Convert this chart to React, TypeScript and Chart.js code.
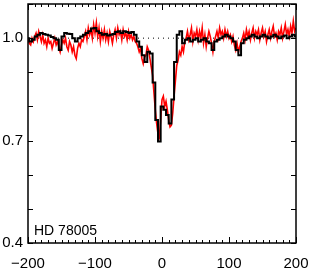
import React, { useEffect, useRef } from 'react';
import { Chart, registerables } from 'chart.js';
Chart.register(...registerables);

// Velocity grid (km/s) of the black (coarse) spectrum
const blackVel = [
  -200, -196, -192, -188, -184, -180, -176, -172, -168, -164, -160, -156, -152, -148, -144, -140, -136, -132, -128, -124,
  -120, -116, -112, -108, -104, -100, -96, -92, -88, -84, -80, -76, -72, -68, -64, -60, -56, -52, -48, -44,
  -40, -36, -32, -28, -24, -20, -16, -12, -8, -4, 0, 4, 8, 12, 16, 20, 24, 28, 32, 36,
  40, 44, 48, 52, 56, 60, 64, 68, 72, 76, 80, 84, 88, 92, 96, 100, 104, 108, 112, 116,
  120, 124, 128, 132, 136, 140, 144, 148, 152, 156, 160, 164, 168, 172, 176, 180, 184, 188, 192, 196, 200,
];
const blackFlux = [
  1.0, 0.99, 0.995, 1.005, 1.01, 1.015, 1.012, 1.01, 1.008, 1.003, 1.0, 0.995, 0.965, 1.005, 1.015, 1.013, 1.012, 1.0, 0.99, 1.0,
  1.005, 1.01, 1.015, 1.02, 1.028, 1.03, 1.02, 1.015, 1.01, 1.012, 1.008, 1.01, 1.012, 1.018, 1.02, 1.015, 1.02, 1.018, 1.015, 1.018,
  1.01, 0.99, 0.975, 0.95, 0.93, 0.96, 0.955, 0.87, 0.76, 0.697, 0.8, 0.79, 0.775, 0.75, 0.82, 0.93, 1.01, 1.02, 0.985, 0.995,
  1.0, 0.99, 0.995, 1.0, 0.99, 0.995, 1.0, 0.99, 0.985, 0.965, 0.99, 0.995, 1.0, 1.005, 1.01, 1.005, 1.0, 0.99, 0.965, 0.95,
  0.985, 0.995, 1.0, 1.005, 1.01, 1.005, 1.0, 1.005, 1.01, 1.005, 1.0, 1.005, 1.01, 1.005, 1.0, 1.005, 1.008, 1.0, 1.005, 1.01, 1.005,
];

// Velocity grid (km/s) of the red (fine) spectrum
const redVel = [
  -200, -198, -196, -194, -192, -190, -188, -186, -184, -182, -180, -178, -176, -174, -172, -170, -168, -166, -164, -162,
  -160, -158, -156, -154, -152, -150, -148, -146, -144, -142, -140, -138, -136, -134, -132, -130, -128, -126, -124, -122,
  -120, -118, -116, -114, -112, -110, -108, -106, -104, -102, -100, -98, -96, -94, -92, -90, -88, -86, -84, -82,
  -80, -78, -76, -74, -72, -70, -68, -66, -64, -62, -60, -58, -56, -54, -52, -50, -48, -46, -44, -42,
  -40, -38, -36, -34, -32, -30, -28, -26, -24, -22, -20, -18, -16, -14, -12, -10, -8, -6, -4, -2,
  0, 2, 4, 6, 8, 10, 12, 14, 16, 18, 20, 22, 24, 26, 28, 30, 32, 34, 36, 38,
  40, 42, 44, 46, 48, 50, 52, 54, 56, 58, 60, 62, 64, 66, 68, 70, 72, 74, 76, 78,
  80, 82, 84, 86, 88, 90, 92, 94, 96, 98, 100, 102, 104, 106, 108, 110, 112, 114, 116, 118,
  120, 122, 124, 126, 128, 130, 132, 134, 136, 138, 140, 142, 144, 146, 148, 150, 152, 154, 156, 158,
  160, 162, 164, 166, 168, 170, 172, 174, 176, 178, 180, 182, 184, 186, 188, 190, 192, 194, 196, 198, 200,
];
const redFlux = [
  1.0, 0.985, 0.98, 1.0, 0.99, 1.005, 1.015, 0.995, 1.02, 1.005, 0.99, 1.01, 0.985, 0.995, 0.975, 1.0, 0.985, 0.99, 0.97, 0.985,
  1.0, 0.98, 0.99, 0.975, 0.96, 0.98, 0.995, 0.985, 1.0, 0.975, 0.965, 0.99, 0.98, 0.96, 0.975, 0.95, 0.94, 0.97, 0.985, 0.975,
  0.995, 0.99, 1.005, 1.02, 0.995, 1.03, 1.01, 1.025, 1.0, 1.04, 1.015, 1.045, 1.005, 1.03, 0.99, 1.02, 1.0, 1.025, 0.995, 1.015,
  0.99, 1.02, 1.005, 0.985, 1.01, 1.025, 1.0, 1.03, 1.01, 1.02, 0.995, 1.025, 1.005, 1.015, 0.995, 1.02, 1.0, 1.01, 0.995, 1.005,
  0.99, 0.985, 0.975, 0.96, 0.97, 0.94, 0.925, 0.945, 0.95, 0.975, 0.965, 0.94, 0.915, 0.89, 0.84, 0.79, 0.75, 0.72, 0.71, 0.76,
  0.82, 0.83, 0.8, 0.815, 0.79, 0.76, 0.74, 0.745, 0.78, 0.83, 0.875, 0.92, 0.935, 0.96, 0.95, 0.975, 0.96, 0.99, 1.0, 1.02,
  0.995, 1.01, 1.03, 0.99, 1.015, 1.005, 1.025, 0.995, 1.02, 1.0, 1.03, 0.985, 1.01, 0.975, 1.0, 1.02, 1.005, 0.985, 0.96, 0.99,
  1.005, 1.02, 1.0, 1.03, 1.01, 1.02, 1.0, 1.025, 1.005, 1.02, 1.0, 1.01, 0.99, 1.005, 0.98, 0.965, 0.985, 0.96, 0.975, 0.99,
  1.0, 1.015, 0.995, 1.025, 1.005, 1.02, 0.995, 1.015, 1.03, 1.0, 1.02, 1.01, 1.025, 0.995, 1.015, 1.03, 1.005, 1.02, 0.99, 1.01,
  1.025, 1.0, 1.02, 1.035, 1.005, 1.015, 0.995, 1.02, 1.01, 1.03, 1.0, 1.02, 1.04, 1.01, 1.025, 1.005, 1.035, 1.015, 1.05, 1.02, 1.03,
];

const continuumLevel = 1.0;
const xTickLabels = [-200, -100, 0, 100, 200];
const yTickLabels = [0.4, 0.7, 1.0];
const starLabel = 'HD 78005';

const FONT = "'Liberation Sans', Arial, sans-serif";

const framePlugin = {
  id: 'frame',
  afterDatasetsDraw(chart: any) {
    const { ctx, chartArea: a, scales } = chart;
    const xs = scales.x;
    const ys = scales.y;
    ctx.save();
    ctx.strokeStyle = '#000';
    ctx.lineWidth = 1;
    for (let v = -200; v <= 200; v += 10) {
      const px = Math.round(xs.getPixelForValue(v)) + 0.5;
      const major = v % 100 === 0;
      const len = major ? 6 : 3;
      ctx.beginPath();
      ctx.moveTo(px, a.bottom);
      ctx.lineTo(px, a.bottom - len);
      ctx.moveTo(px, a.top);
      ctx.lineTo(px, a.top + len);
      ctx.stroke();
    }
    for (let i = 4; i <= 11; i++) {
      const v = i / 10;
      const py = Math.round(ys.getPixelForValue(v)) + 0.5;
      ctx.beginPath();
      ctx.moveTo(a.left, py);
      ctx.lineTo(a.left + 5, py);
      ctx.moveTo(a.right, py);
      ctx.lineTo(a.right - 5, py);
      ctx.stroke();
    }
    ctx.lineWidth = 1.5;
    ctx.strokeRect(a.left, a.top, a.right - a.left, a.bottom - a.top);
    ctx.fillStyle = '#000';
    ctx.font = `14px ${FONT}`;
    ctx.textBaseline = 'alphabetic';
    ctx.textAlign = 'left';
    ctx.fillText(starLabel, a.left + 6, a.bottom - 8);
    ctx.restore();
  },
};

export default function App() {
  const ref = useRef<HTMLCanvasElement>(null);
  useEffect(() => {
    if (!ref.current) return;
    const chart = new Chart(ref.current, {
      type: 'line',
      data: {
        datasets: [
          {
            label: 'black',
            data: blackVel.map((v, i) => ({ x: v, y: blackFlux[i] })),
            borderColor: '#000',
            borderWidth: 2,
            pointRadius: 0,
            stepped: 'middle',
            fill: false,
          },
          {
            label: 'red',
            data: redVel.map((v, i) => ({ x: v, y: redFlux[i] })),
            borderColor: '#ff0000',
            borderWidth: 1.6,
            pointRadius: 0,
            fill: false,
          },
          {
            label: 'continuum',
            data: [
              { x: xTickLabels[0], y: continuumLevel },
              { x: xTickLabels[xTickLabels.length - 1], y: continuumLevel },
            ],
            borderColor: '#000',
            borderWidth: 1,
            borderDash: [1, 4],
            pointRadius: 0,
            fill: false,
          },
        ],
      },
      options: {
        animation: false,
        responsive: false,
        events: [],
        layout: { padding: { top: 4, right: 15, left: 0, bottom: 0 } },
        plugins: { legend: { display: false }, tooltip: { enabled: false } },
        scales: {
          x: {
            type: 'linear',
            min: -200,
            max: 200,
            grid: { display: false, drawTicks: false },
            border: { display: false },
            afterBuildTicks: (s: any) => {
              s.ticks = xTickLabels.map((v) => ({ value: v }));
            },
            afterFit: (s: any) => {
              s.height = 30;
              s.paddingLeft = 0;
              s.paddingRight = 0;
            },
            ticks: {
              color: '#000',
              font: { family: FONT, size: 15 },
              padding: 12,
              maxRotation: 0,
              autoSkip: false,
              callback: (v: any) => (Number(v) < 0 ? '\u2212' + Math.abs(Number(v)) : String(v)),
            },
          },
          y: {
            type: 'linear',
            min: 0.4,
            max: 1.1,
            grid: { display: false, drawTicks: false },
            border: { display: false },
            afterBuildTicks: (s: any) => {
              s.ticks = yTickLabels.map((v) => ({ value: v }));
            },
            afterFit: (s: any) => {
              s.width = 28;
              s.paddingTop = 0;
              s.paddingBottom = 0;
            },
            ticks: {
              color: '#000',
              font: { family: FONT, size: 15 },
              padding: 5,
              autoSkip: false,
              callback: (v: any) => Number(v).toFixed(1),
            },
          },
        },
      },
      plugins: [framePlugin],
    });
    return () => chart.destroy();
  }, []);
  return (
    <div style={{ position: 'fixed', left: 0, top: 0, width: 311, height: 273, background: '#fff' }}>
      <canvas ref={ref} width={311} height={273} style={{ display: 'block' }} />
    </div>
  );
}
